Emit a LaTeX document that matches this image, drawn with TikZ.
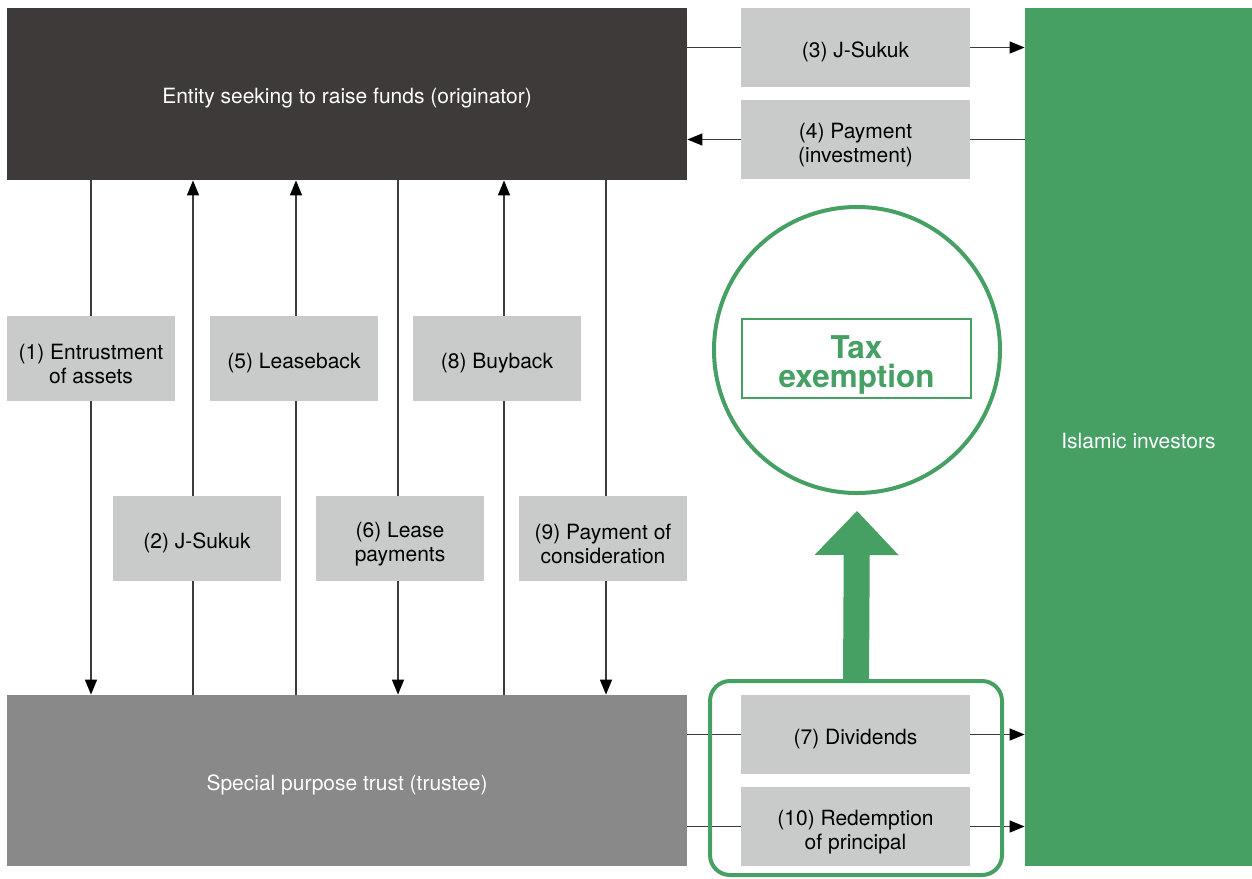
\documentclass[tikz,border=0pt]{standalone}
\usepackage{fontspec}
\setmainfont{TeX Gyre Heros}
\usetikzlibrary{arrows.meta,positioning,backgrounds}

\definecolor{origgrey}{HTML}{3E3A39}
\definecolor{trustgrey}{HTML}{898989}
\definecolor{labelgrey}{HTML}{C9CACA}
\definecolor{islamgreen}{HTML}{46A064}

\tikzset{
  party/.style={rectangle, inner sep=0pt, text=white, text height=12pt,
                font=\fontsize{10.5}{12}\selectfont},
  flowlabel/.style={rectangle, fill=labelgrey, inner sep=0pt, align=center,
                    text height=12pt, font=\fontsize{10.5}{12}\selectfont},
  twoline/.style={text height=25pt},
  widelabel/.style={flowlabel, minimum width=114.5pt, minimum height=39.5pt},
  narrowlabel/.style={flowlabel, minimum width=84pt, minimum height=42.5pt},
  flow/.style={draw=origgrey, line width=0.75pt}
}

\begin{document}
\begin{tikzpicture}[x=0.5pt, y=-0.5pt, >={Triangle[length=7.5pt,width=6pt,color=black]}]

\useasboundingbox (0,0) rectangle (1252,878);

%% parties
\node[party, fill=origgrey, minimum width=340pt, minimum height=86pt] (orig) at (347,94) {Entity seeking to raise funds (originator)};
\node[party, fill=trustgrey, minimum width=340pt, minimum height=85.5pt] (trust) at (347,780.5) {Special purpose trust (trustee)};
\node[party, fill=islamgreen, minimum width=113.5pt, minimum height=429pt] (inv) at (1138.5,437) {Islamic investors};

%% flow labels
\node[widelabel] (l3) at (855.5,47.5) {(3) J-Sukuk};
\node[widelabel, twoline] (l4) at (855.5,139.5) {(4) Payment\\(investment)};
\node[widelabel] (l7) at (855.5,734.5) {(7) Dividends};
\node[widelabel, twoline] (l10) at (855.5,826.5) {(10) Redemption\\of principal};

\node[narrowlabel, twoline] (l1) at (91,358.5) {(1) Entrustment\\of assets};
\node[narrowlabel] (l5) at (294,358.5) {(5) Leaseback};
\node[narrowlabel] (l8) at (497,358.5) {(8) Buyback};
\node[narrowlabel] (l2) at (197,538.5) {(2) J-Sukuk};
\node[narrowlabel, twoline] (l6) at (400,538.5) {(6) Lease\\payments};
\node[narrowlabel, twoline] (l9) at (603,538.5) {(9) Payment of\\consideration};

%% columns of the vertical flows
\coordinate (col1) at (91,0);
\coordinate (col2) at (193,0);
\coordinate (col3) at (296,0);
\coordinate (col4) at (398,0);
\coordinate (col5) at (504,0);
\coordinate (col6) at (606,0);

\begin{pgfonlayer}{background}
\draw[flow,->] (orig.south -| col1) -- (trust.north -| col1);
\draw[flow,<-] (orig.south -| col2) -- (trust.north -| col2);
\draw[flow,<-] (orig.south -| col3) -- (trust.north -| col3);
\draw[flow,->] (orig.south -| col4) -- (trust.north -| col4);
\draw[flow,<-] (orig.south -| col5) -- (trust.north -| col5);
\draw[flow,->] (orig.south -| col6) -- (trust.north -| col6);

\draw[flow,->] (orig.east |- l3) -- (inv.west |- l3);
\draw[flow,<-] (orig.east |- l4) -- (inv.west |- l4);
\draw[flow,->] (trust.east |- l7) -- (inv.west |- l7);
\draw[flow,->] (trust.east |- l10) -- (inv.west |- l10);
\end{pgfonlayer}

%% tax exemption
\node[circle, draw=islamgreen, line width=2pt, minimum size=143pt, inner sep=0pt] (taxcirc) at (857,350) {};
\node[draw=islamgreen, line width=1pt, minimum width=114.5pt, minimum height=39.5pt,
      inner sep=0pt, align=center, text=islamgreen, text height=32pt,
      font=\bfseries\fontsize{15.7}{14.5}\selectfont] (taxnote) at (856.5,358.5) {Tax\\exemption};

\node[draw=islamgreen, line width=2pt, rounded corners=10pt, minimum width=146pt,
      minimum height=97pt, inner sep=0pt] (grp) at (856,778) {};

\draw[islamgreen, line width=13pt, -{Triangle[length=22pt,width=42pt,line width=0pt]}]
  (grp.north) -- ([yshift=-8pt]taxcirc.south);

\end{tikzpicture}
\end{document}
